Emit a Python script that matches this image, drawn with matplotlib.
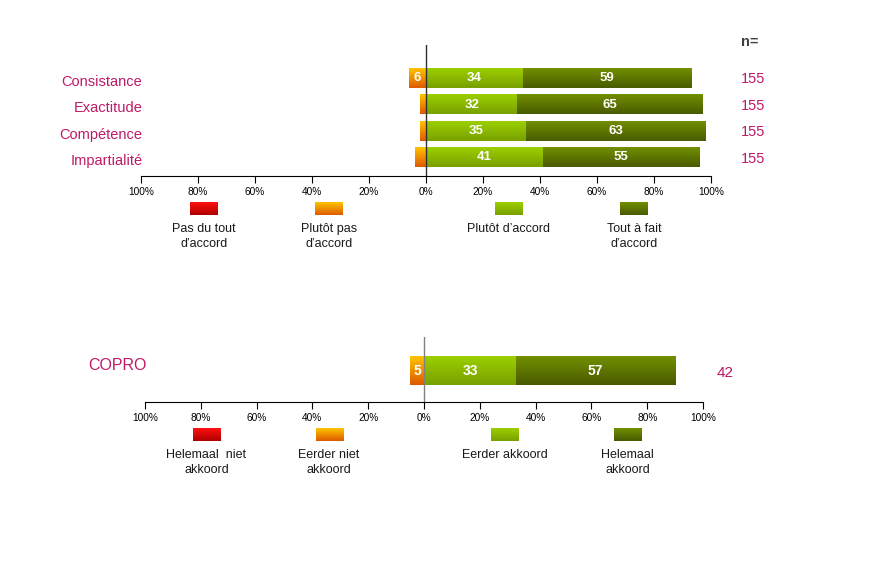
import numpy as np
import matplotlib.pyplot as plt
import matplotlib.transforms as mtransforms
from matplotlib.colors import LinearSegmentedColormap

plt.rcParams['font.family'] = ['Liberation Sans', 'DejaVu Sans']

# top chart data (French)
cats_fr = ['Consistance', 'Exactitude', 'Compétence', 'Impartialité']
red_fr = [0, 0, 0, 0]
orange_fr = [6, 2, 2, 4]
light_fr = [34, 32, 35, 41]
dark_fr = [59, 65, 63, 55]
n_fr = [155, 155, 155, 155]
legend_fr = ['Pas du tout\nd’accord', 'Plutôt pas\nd’accord', 'Plutôt d’accord', 'Tout à fait\nd’accord']

# bottom chart data (Dutch)
cats_nl = ['COPRO']
red_nl = [0]
orange_nl = [5]
light_nl = [33]
dark_nl = [57]
n_nl = [42]
legend_nl = ['Helemaal  niet\nakkoord', 'Eerder niet\nakkoord', 'Eerder akkoord', 'Helemaal\nakkoord']

ticks = [-100, -80, -60, -40, -20, 0, 20, 40, 60, 80, 100]
tick_labels = ['%d%%' % abs(t) for t in ticks]

# gradient colours (bottom, top)
grads = {
    'red': ('#B00000', '#FF1010'),
    'orange': ('#DD5A00', '#FFC400'),
    'light': ('#78A000', '#9CCF00'),
    'dark': ('#485B00', '#728F00'),
}
pink = '#BE1A66'
W, H = 877, 585


def gradient(ax, x0, y0, w, h, key):
    cmap = LinearSegmentedColormap.from_list(key, grads[key])
    ax.imshow(np.linspace(0, 1, 64).reshape(-1, 1), cmap=cmap, origin='lower',
              extent=(x0, x0 + w, y0, y0 + h), aspect='auto',
              interpolation='bilinear', zorder=2)


def stacked(ax, pos, red, orange, light, dark, height, fs):
    red = np.array(red); orange = np.array(orange)
    light = np.array(light); dark = np.array(dark)
    segs = [('red', -(red + orange), red),
            ('orange', -orange, orange),
            ('light', np.zeros_like(light), light),
            ('dark', light, dark)]
    for key, left, vals in segs:
        bars = ax.barh(pos, vals, left=left, height=height, color='none')
        for b, v in zip(bars, vals):
            if v <= 0:
                continue
            gradient(ax, b.get_x(), b.get_y(), b.get_width(), b.get_height(), key)
            if v >= 5:
                ax.text(b.get_x() + b.get_width() / 2, b.get_y() + b.get_height() / 2,
                        str(v), color='white', fontsize=fs, fontweight='bold',
                        ha='center', va='center', zorder=4)


def style_axis(ax, zcolor):
    ax.set_xlim(-100, 100)
    for s in ['top', 'right', 'left']:
        ax.spines[s].set_visible(False)
    ax.spines['bottom'].set_color('#000000')
    ax.set_xticks(ticks)
    ax.set_xticklabels(tick_labels, fontsize=7.3)
    ax.tick_params(axis='x', length=5, width=0.8, pad=3)
    ax.tick_params(axis='y', length=0)
    ax.axvline(0, color=zcolor, lw=1, zorder=3)
    ax.patch.set_alpha(0)


def legend(lax, labels, centers, sw_top, sw_h, sw_w, text_y):
    lax.axis('off')
    for key, lab, cx in zip(['red', 'orange', 'light', 'dark'], labels, centers):
        gradient(lax, cx - sw_w / 2, sw_top + sw_h, sw_w, -sw_h, key)
        lax.text(cx, text_y, lab, ha='center', va='top', fontsize=9,
                 color='#1a1a1a', linespacing=1.33)
    lax.set_xlim(-100, 100)
    lax.set_ylim(text_y + 40, sw_top - 5)


fig = plt.figure(figsize=(W / 100, H / 100), dpi=100)

# ---- top chart
ax1 = fig.add_axes([141 / W, (H - 176) / H, 570 / W, 131 / H])
pos1 = np.arange(len(cats_fr))[::-1]
stacked(ax1, pos1, red_fr, orange_fr, light_fr, dark_fr, 0.75, 9.5)
style_axis(ax1, '#303030')
ax1.set_ylim(-0.7, 4.25)
ax1.set_yticks(pos1)
ax1.set_yticklabels(cats_fr, fontsize=10.5, color=pink)
ax1.tick_params(axis='y', pad=-1)
shift = mtransforms.ScaledTranslation(0, -1.5 / 72, fig.dpi_scale_trans)
for lab in ax1.get_yticklabels():
    lab.set_transform(lab.get_transform() + shift)
for p, n in zip(pos1, n_fr):
    ax1.text(110.5, p - 0.04, str(n), fontsize=10.5, color=pink, va='center', ha='left', clip_on=False)
ax1.text(110.5, 4.37, 'n=', fontsize=10.5, color='#404040', fontweight='bold', va='center', ha='left', clip_on=False)

lax1 = fig.add_axes([141 / W, (H - 262) / H, 570 / W, 65 / H])
legend(lax1, legend_fr, [-78, -34, 29, 73], 202, 13, 9.8, 223.5)

# ---- bottom chart
ax2 = fig.add_axes([145 / W, (H - 402) / H, 558 / W, 65 / H])
pos2 = np.arange(len(cats_nl))
stacked(ax2, pos2, red_nl, orange_nl, light_nl, dark_nl, 1.0, 10)
style_axis(ax2, '#808080')
ax2.set_ylim(-1.107, 1.214)
ax2.set_yticks([])
ax2.text(-120.5, 0.18, cats_nl[0], fontsize=11.5, color=pink, ha='left', va='center', clip_on=False)
ax2.text(105, -0.07, str(n_nl[0]), fontsize=11, color=pink, ha='left', va='center', clip_on=False)

lax2 = fig.add_axes([145 / W, (H - 488) / H, 558 / W, 65 / H])
legend(lax2, legend_nl, [-78, -34, 29, 73], 428, 13, 9.7, 449.5)

fig.savefig('out.png', dpi=100)
